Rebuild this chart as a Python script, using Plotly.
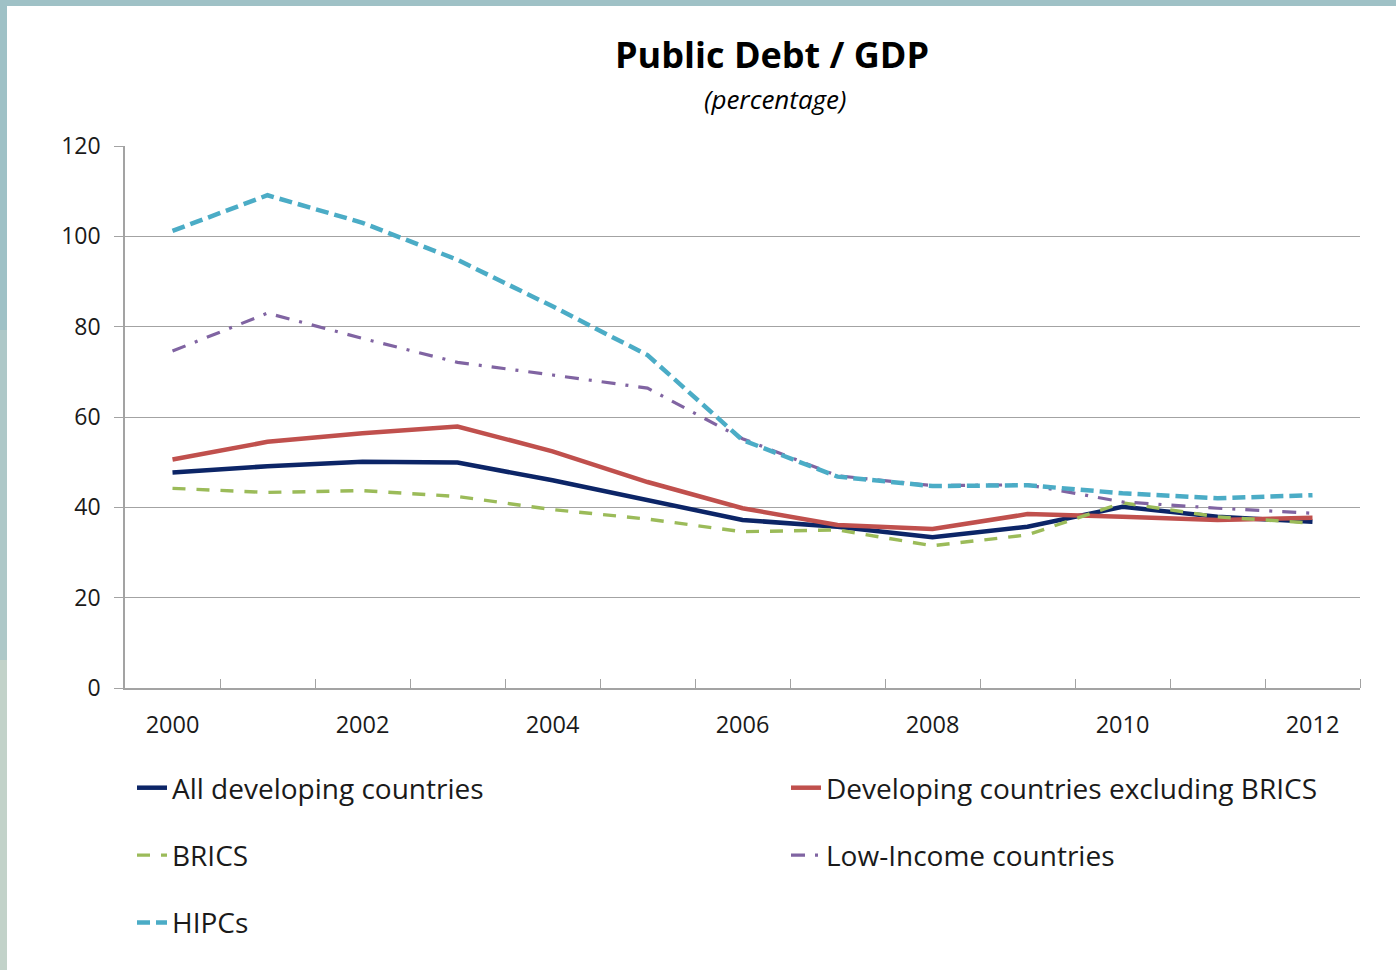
import plotly.graph_objects as go

years = list(range(2000, 2013))
all_dev = [47.7, 49.1, 50.1, 49.9, 46.0, 41.6, 37.2, 35.7, 33.4, 35.7, 40.1, 37.9, 36.8]
dev_ex_brics = [50.6, 54.5, 56.4, 57.9, 52.4, 45.6, 39.8, 36.1, 35.2, 38.5, 37.9, 37.2, 37.7]
brics = [44.2, 43.3, 43.7, 42.4, 39.5, 37.4, 34.6, 35.0, 31.5, 33.9, 41.0, 37.9, 36.5]
low_income = [74.6, 83.0, 77.4, 72.1, 69.3, 66.4, 55.2, 47.0, 44.8, 45.0, 41.2, 39.8, 38.7]
hipcs = [101.2, 109.1, 103.0, 94.8, 84.5, 73.7, 54.9, 46.8, 44.7, 44.9, 43.1, 42.0, 42.7]
y_ticks = [0, 20, 40, 60, 80, 100, 120]
x_label_years = years[::2]

FONT = "Open Sans"
GRID = "#a3a3a3"

W, H = 1396, 970
ML, MR, MT, MB = 125, 36, 146, 282
PW, PH = W - ML - MR, H - MT - MB

fig = go.Figure()

series = [
    ("All developing countries", all_dev, dict(color="#0c2567", width=4.5), "legend"),
    ("Developing countries excluding BRICS", dev_ex_brics, dict(color="#c0504d", width=4.5), "legend2"),
    ("BRICS", brics, dict(color="#9bbb59", width=3.4, dash="13px,11px"), "legend"),
    ("Low-Income countries", low_income, dict(color="#8064a2", width=3.2, dash="14px,10px,3px,10px"), "legend2"),
    ("HIPCs", hipcs, dict(color="#4bacc6", width=4.5, dash="13px,6px"), "legend"),
]
for name, vals, line, lg in series:
    fig.add_trace(go.Scatter(
        x=years, y=vals, name=name, mode="lines", line=line,
        legend=lg, legendgroup=name, showlegend=True,
    ))

def px_x(p):
    return (p - ML) / PW

def px_y(p):
    return (H - MB - p) / PH

shapes = [
    dict(type="rect", xref="paper", yref="paper", x0=px_x(0), x1=px_x(W), y0=px_y(0), y1=px_y(6),
         fillcolor="#9fc1c6", line=dict(width=0), layer="below"),
    dict(type="rect", xref="paper", yref="paper", x0=px_x(0), x1=px_x(7), y0=px_y(0), y1=px_y(330),
         fillcolor="#9fc1c6", line=dict(width=0), layer="below"),
    dict(type="rect", xref="paper", yref="paper", x0=px_x(0), x1=px_x(7), y0=px_y(330), y1=px_y(660),
         fillcolor="#aec8c8", line=dict(width=0), layer="below"),
    dict(type="rect", xref="paper", yref="paper", x0=px_x(0), x1=px_x(7), y0=px_y(660), y1=px_y(H),
         fillcolor="#c2d2c9", line=dict(width=0), layer="below"),
]

legend_common = dict(
    orientation="v", xref="container", yref="container",
    xanchor="left", yanchor="top",
    font=dict(size=28, family=FONT, color="#1a1a1a"),
    tracegroupgap=28, bgcolor="rgba(0,0,0,0)", itemwidth=30,
)

fig.update_layout(
    width=W, height=H,
    margin=dict(l=ML, r=MR, t=MT, b=MB, autoexpand=False),
    paper_bgcolor="white", plot_bgcolor="white",
    font=dict(family=FONT, color="#1a1a1a"),
    shapes=shapes,
    annotations=[
        dict(text="<b>Public Debt / GDP</b>", xref="paper", yref="paper",
             x=px_x(772), y=px_y(55), xanchor="center", yanchor="middle",
             showarrow=False, font=dict(size=36, family=FONT, color="black")),
        dict(text="<i>(percentage)</i>", xref="paper", yref="paper",
             x=px_x(775), y=px_y(99), xanchor="center", yanchor="middle",
             showarrow=False, font=dict(size=26, family=FONT, color="black")),
    ],
    xaxis=dict(
        range=[years[0] - 0.5, years[-1] + 0.5],
        tickmode="array", tickvals=x_label_years, ticktext=[str(y) for y in x_label_years],
        ticks="", showgrid=False, zeroline=False,
        showline=True, linecolor=GRID, linewidth=1.5,
        tickfont=dict(size=23.5, family=FONT, color="#1a1a1a"),
        tickangle=0,
        ticklabelstandoff=15,
        minor=dict(tickmode="array", tickvals=[y + 0.5 for y in years], ticks="inside",
                   ticklen=9, tickcolor=GRID, tickwidth=1.2, showgrid=False),
        fixedrange=True,
    ),
    yaxis=dict(
        range=[0, 120], tickmode="array", tickvals=y_ticks,
        ticks="outside", ticklen=9, tickcolor=GRID, tickwidth=1.2,
        showgrid=True, gridcolor=GRID, gridwidth=1.2, zeroline=False,
        showline=True, linecolor=GRID, linewidth=1.5,
        tickfont=dict(size=23, family=FONT, color="#1a1a1a"),
        ticklabelstandoff=9,
        fixedrange=True,
    ),
    legend=dict(legend_common, x=132 / W, y=1 - 763 / H),
    legend2=dict(legend_common, x=786 / W, y=1 - 763 / H),
)

fig.write_html(
    "out.html",
    config={"displayModeBar": False},
    post_script="document.body.style.margin='0';document.body.style.overflow='hidden';",
)
